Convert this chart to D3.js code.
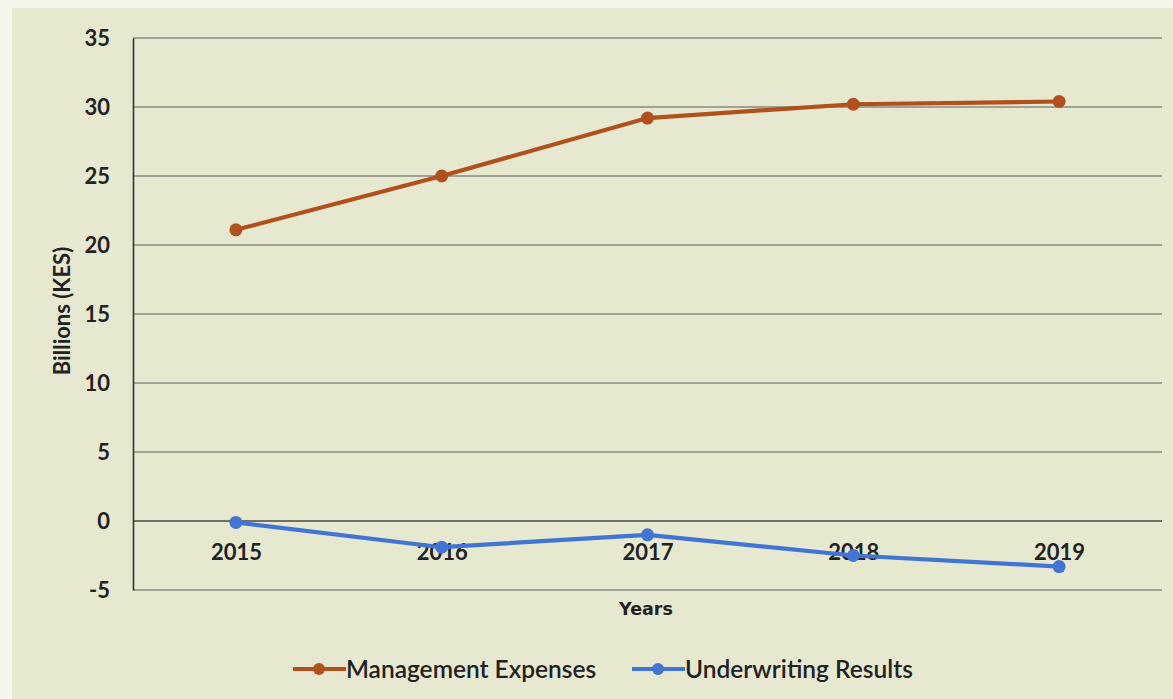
<!DOCTYPE html>
<html>
<head>
<meta charset="utf-8">
<script src="https://cdn.jsdelivr.net/npm/d3@7"></script>
<style>
  html, body { margin: 0; padding: 0; background: #f5f5ec; }
  svg { display: block; }
</style>
</head>
<body>
<svg id="chart" width="1173" height="699"></svg>
<script>
// Yearly figures, billions of KES
const years = ["2015", "2016", "2017", "2018", "2019"];
const managementExpenses = [21.1, 25.0, 29.2, 30.2, 30.4];
const underwritingResults = [-0.1, -1.9, -1.0, -2.5, -3.3];
const yTicks = [-5, 0, 5, 10, 15, 20, 25, 30, 35];
const seriesNames = ["Management Expenses", "Underwriting Results"];
const seriesColors = ["#b1501c", "#4274d3"];

const svg = d3.select("#chart");
const W = 1173, H = 699;
const plot = { left: 133, right: 1162, top: 38, bottom: 590 };
const font = "Lato, 'Open Sans', sans-serif";

// panel background
svg.append("rect").attr("x", 12).attr("y", 8).attr("width", W - 12).attr("height", H - 8)
  .attr("fill", "#e7e8d0");

const x = d3.scalePoint().domain(years).range([plot.left, plot.right]).padding(0.5);
const y = d3.scaleLinear().domain([-5, 35]).range([plot.bottom, plot.top]);

// horizontal gridlines
svg.append("g").selectAll("line").data(yTicks).join("line")
  .attr("x1", plot.left).attr("x2", plot.right)
  .attr("y1", d => y(d)).attr("y2", d => y(d))
  .attr("stroke", d => d === 0 ? "#4a4a44" : "#8a8a82").attr("stroke-width", 1.4);

// y axis
const yAxis = svg.append("g").attr("transform", `translate(${plot.left},0)`)
  .call(d3.axisLeft(y).tickValues(yTicks).tickSize(0).tickPadding(23)
    .tickFormat(d => String(d)));
yAxis.select(".domain").attr("stroke", "#333").attr("stroke-width", 1.6);
yAxis.selectAll("text").attr("font-family", font)
  .attr("font-weight", "bold").attr("font-size", 22).attr("fill", "#222");

// x axis labels sit just below the zero line
const xAxis = svg.append("g").attr("transform", `translate(0,${y(0)})`)
  .call(d3.axisBottom(x).tickSize(0).tickPadding(23));
xAxis.select(".domain").remove();
xAxis.selectAll("text").attr("font-family", font)
  .attr("font-weight", "bold").attr("font-size", 22).attr("fill", "#222");

// axis titles
svg.append("text").attr("transform", `translate(70,311) rotate(-90)`)
  .attr("text-anchor", "middle").attr("font-family", font)
  .attr("font-weight", "bold").attr("font-size", 22).attr("fill", "#222").text("Billions (KES)");
svg.append("text").attr("x", 646).attr("y", 615)
  .attr("text-anchor", "middle").attr("font-family", "'DejaVu Sans', sans-serif")
  .attr("font-weight", "bold").attr("font-size", 17.5).attr("fill", "#222").text("Years");

// series lines and markers
const allSeries = [managementExpenses, underwritingResults];
const line = d3.line().x((d, i) => x(years[i])).y(d => y(d));
allSeries.forEach((vals, si) => {
  svg.append("path").datum(vals).attr("d", line)
    .attr("fill", "none").attr("stroke", seriesColors[si]).attr("stroke-width", 4.2)
    .attr("stroke-linejoin", "round");
  svg.append("g").selectAll("circle").data(vals).join("circle")
    .attr("cx", (d, i) => x(years[i])).attr("cy", d => y(d)).attr("r", 6.5)
    .attr("fill", seriesColors[si]);
});

// legend
const legendX = [293, 632];
legendX.forEach((lx, i) => {
  const g = svg.append("g").attr("transform", `translate(${lx},669)`);
  g.append("line").attr("x1", 0).attr("x2", 53).attr("stroke", seriesColors[i]).attr("stroke-width", 4);
  g.append("circle").attr("cx", 26).attr("r", 6).attr("fill", seriesColors[i]);
  g.append("text").attr("x", 53).attr("y", 8.5)
    .attr("font-family", font).attr("font-weight", "600")
    .attr("font-size", 24.5).attr("fill", "#222").text(seriesNames[i]);
});
</script>
</body>
</html>
